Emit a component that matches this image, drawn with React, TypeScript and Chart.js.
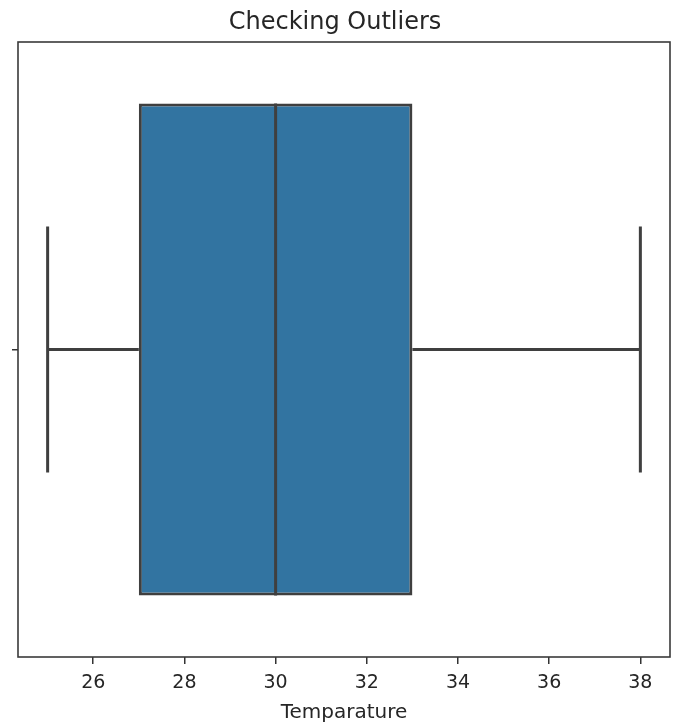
import React, { useEffect, useRef } from "react";
import { Chart, registerables } from "chart.js";

Chart.register(...registerables);

// ---- data ----
const categories: string[] = [""];
const whiskerLow: number[] = [25];
const q1: number[] = [27];
const median: number[] = [30];
const q3: number[] = [33];
const whiskerHigh: number[] = [38];
const xTickValues: number[] = [26, 28, 30, 32, 34, 36, 38];
const xMin = 24.35;
const xMax = 38.65;

const titleText = "Checking Outliers";
const xLabel = "Temparature";

const FONT = "'DejaVu Sans', sans-serif";
const TEXT = "#262626";
const LINE = "#3f3f3f";
const BOX = "#3274a1";

const boxPlugin = {
  id: "boxParts",
  afterDatasetsDraw(chart: any) {
    const ctx = chart.ctx;
    const xs = chart.scales.x;
    const meta = chart.getDatasetMeta(0);
    ctx.save();
    ctx.strokeStyle = LINE;
    ctx.lineWidth = 3;
    ctx.lineCap = "butt";
    meta.data.forEach((bar: any, i: number) => {
      const yc = bar.y;
      const h = bar.height;
      const capHalf = h / 4;
      const xLo = xs.getPixelForValue(whiskerLow[i]);
      const xQ1 = xs.getPixelForValue(q1[i]);
      const xMed = xs.getPixelForValue(median[i]);
      const xQ3 = xs.getPixelForValue(q3[i]);
      const xHi = xs.getPixelForValue(whiskerHigh[i]);
      ctx.beginPath();
      ctx.moveTo(xLo, yc);
      ctx.lineTo(xQ1, yc);
      ctx.moveTo(xQ3, yc);
      ctx.lineTo(xHi, yc);
      ctx.moveTo(xLo, yc - capHalf);
      ctx.lineTo(xLo, yc + capHalf);
      ctx.moveTo(xHi, yc - capHalf);
      ctx.lineTo(xHi, yc + capHalf);
      ctx.moveTo(xMed, yc - h / 2);
      ctx.lineTo(xMed, yc + h / 2);
      ctx.stroke();
    });
    ctx.restore();
  },
  afterDraw(chart: any) {
    const { ctx, chartArea } = chart;
    ctx.save();
    ctx.strokeStyle = "#3a3a3a";
    ctx.lineWidth = 1.6;
    ctx.strokeRect(chartArea.left, chartArea.top, chartArea.right - chartArea.left, chartArea.bottom - chartArea.top);
    ctx.restore();
  },
};

export default function App() {
  const ref = useRef<HTMLCanvasElement | null>(null);

  useEffect(() => {
    document.body.style.margin = "0";
    if (!ref.current) return;
    const chart = new Chart(ref.current, {
      type: "bar",
      data: {
        labels: categories,
        datasets: [
          {
            data: categories.map((_, i) => [q1[i], q3[i]] as [number, number]),
            backgroundColor: BOX,
            borderColor: LINE,
            borderWidth: 3,
            borderSkipped: false,
            categoryPercentage: 1,
            barPercentage: 0.8,
          },
        ],
      },
      options: {
        indexAxis: "y",
        animation: false,
        responsive: false,
        maintainAspectRatio: false,
        layout: { padding: { left: 0, right: 7, top: 0, bottom: 0 } },
        plugins: {
          legend: { display: false },
          tooltip: { enabled: false },
          title: {
            display: true,
            text: titleText,
            color: TEXT,
            font: { family: FONT, size: 24, weight: "normal" },
            padding: { top: 8, bottom: 5.2 },
          },
        },
        scales: {
          x: {
            type: "linear",
            min: xMin,
            max: xMax,
            afterBuildTicks: (scale: any) => {
              scale.ticks = xTickValues.map((v) => ({ value: v }));
            },
            afterFit: (scale: any) => {
              scale.height = 69;
            },
            border: { display: false },
            grid: {
              display: true,
              drawOnChartArea: false,
              drawTicks: true,
              tickLength: 7,
              color: "#333",
              lineWidth: 1.5,
            },
            ticks: {
              color: TEXT,
              font: { family: FONT, size: 19 },
              padding: 8,
              maxRotation: 0,
              autoSkip: false,
            },
            title: {
              display: true,
              text: xLabel,
              color: TEXT,
              font: { family: FONT, size: 20 },
              padding: { top: 0, bottom: 1 },
            },
          },
          y: {
            type: "category",
            offset: true,
            afterFit: (scale: any) => {
              scale.width = 18;
            },
            border: { display: false },
            grid: {
              display: true,
              offset: false,
              drawOnChartArea: false,
              drawTicks: true,
              tickLength: 6,
              color: "#333",
              lineWidth: 1.5,
            },
            ticks: { display: true, color: TEXT, font: { family: FONT, size: 19 }, padding: 0 },
          },
        },
      },
      plugins: [boxPlugin],
    } as any);
    return () => chart.destroy();
  }, []);

  return (
    <div style={{ width: 677, height: 726 }}>
      <canvas ref={ref} width={677} height={726} style={{ display: "block" }} />
    </div>
  );
}
